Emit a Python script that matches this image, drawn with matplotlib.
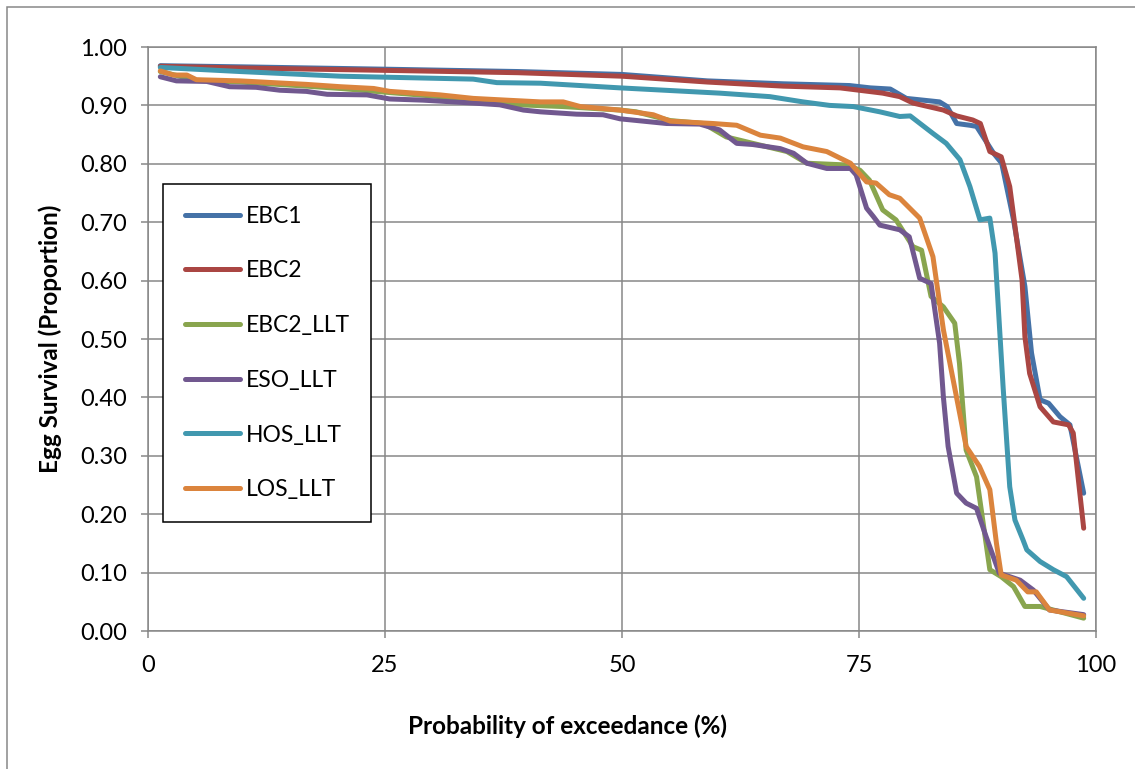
import matplotlib
matplotlib.use('Agg')
import matplotlib.pyplot as plt
from matplotlib.patches import Rectangle

plt.rcParams['font.family'] = ['Lato', 'DejaVu Sans']

# data
ebc1_x = [1.3, 10, 25, 39, 50, 59, 67, 74, 76.2, 78.3, 80.0, 83.5, 84.3, 85.3, 86.7, 87.4,
          89.2, 90.05, 91.3, 92.5, 93.2, 94.1, 95.0, 96.2, 97.25, 98.7]
ebc1_y = [0.968, 0.966, 0.962, 0.958, 0.953, 0.942, 0.937, 0.934, 0.930, 0.928, 0.912, 0.906,
          0.898, 0.869, 0.866, 0.864, 0.818, 0.801, 0.704, 0.590, 0.476, 0.396, 0.390, 0.367,
          0.353, 0.236]

ebc2_x = [1.3, 10, 25, 39, 50, 59, 67, 73, 77.5, 79.3, 80.7, 83.9, 85.3, 87.0, 87.8, 88.8,
          90.0, 90.9, 91.6, 92.2, 92.5, 93.0, 94.1, 95.5, 97.1, 97.6, 98.7]
ebc2_y = [0.967, 0.964, 0.960, 0.956, 0.950, 0.940, 0.933, 0.930, 0.921, 0.915, 0.904, 0.892,
          0.882, 0.875, 0.869, 0.821, 0.812, 0.761, 0.675, 0.601, 0.504, 0.441, 0.384, 0.358,
          0.353, 0.339, 0.176]

ebc2_llt_x = [1.3, 5.1, 9.7, 16.7, 20.3, 25.5, 30.8, 34.3, 39.2, 43.8, 49.8, 51.5, 55.1, 58.6,
              61.0, 63.8, 67.4, 69.5, 73.7, 75.1, 76.1, 77.5, 78.9, 80.7, 81.6, 82.6, 83.9,
              85.1, 85.6, 86.3, 87.4, 88.8, 90.0, 91.3, 92.5, 94.1, 98.7]
ebc2_llt_y = [0.958, 0.943, 0.940, 0.933, 0.929, 0.922, 0.915, 0.909, 0.901, 0.898, 0.892,
              0.889, 0.874, 0.869, 0.846, 0.835, 0.821, 0.801, 0.798, 0.789, 0.772, 0.721,
              0.704, 0.658, 0.652, 0.573, 0.555, 0.527, 0.458, 0.310, 0.264, 0.105, 0.093,
              0.076, 0.042, 0.042, 0.022]

eso_llt_x = [1.3, 3.0, 6.2, 8.6, 11.4, 13.9, 16.7, 18.9, 23.1, 25.5, 29.0, 34.3, 37.1, 39.6,
             41.4, 45.2, 48.0, 49.8, 54.7, 58.2, 60.3, 62.1, 63.8, 66.7, 68.1, 69.5, 71.6,
             74.1, 74.7, 75.8, 76.5, 77.2, 79.3, 80.3, 81.4, 82.6, 83.5, 83.9, 84.4, 85.3,
             86.3, 87.4, 88.4, 89.8, 92.0, 93.4, 95.1, 98.7]
eso_llt_y = [0.949, 0.942, 0.941, 0.932, 0.931, 0.926, 0.924, 0.919, 0.918, 0.911, 0.909,
             0.904, 0.901, 0.892, 0.889, 0.885, 0.884, 0.877, 0.869, 0.868, 0.858, 0.835,
             0.833, 0.826, 0.818, 0.801, 0.792, 0.792, 0.781, 0.724, 0.710, 0.695, 0.687,
             0.675, 0.604, 0.595, 0.493, 0.401, 0.316, 0.236, 0.219, 0.210, 0.162, 0.099,
             0.087, 0.070, 0.036, 0.028]

hos_llt_x = [1.3, 9.7, 20.3, 34.3, 36.8, 41.4, 49.8, 60.3, 65.6, 69.1, 71.9, 74.4, 77.2, 79.3,
             80.4, 82.8, 84.2, 85.65, 86.7, 87.76, 88.8, 89.35, 90.2, 90.9, 91.45, 92.3, 92.7,
             94.1, 95.5, 96.9, 98.7]
hos_llt_y = [0.965, 0.958, 0.950, 0.945, 0.939, 0.938, 0.930, 0.921, 0.915, 0.906, 0.900,
             0.898, 0.889, 0.881, 0.882, 0.852, 0.835, 0.807, 0.761, 0.704, 0.707, 0.647,
             0.418, 0.247, 0.190, 0.156, 0.139, 0.119, 0.105, 0.093, 0.056]

los_llt_x = [1.3, 2.7, 4.1, 5.1, 9.7, 16.7, 20.3, 23.8, 25.5, 30.8, 34.3, 37.8, 41.4, 43.8,
             45.6, 49.8, 53.3, 55.1, 59.6, 62.1, 64.6, 66.7, 69.1, 71.6, 74.1, 75.8, 76.8,
             78.2, 79.3, 81.4, 82.8, 83.9, 86.3, 87.7, 88.8, 89.5, 90.0, 91.6, 92.8, 93.7,
             95.1, 98.7]
los_llt_y = [0.959, 0.952, 0.952, 0.944, 0.942, 0.936, 0.932, 0.929, 0.924, 0.918, 0.912,
             0.909, 0.906, 0.906, 0.898, 0.892, 0.884, 0.873, 0.869, 0.866, 0.849, 0.844,
             0.829, 0.821, 0.801, 0.769, 0.767, 0.747, 0.741, 0.707, 0.641, 0.516, 0.316,
             0.282, 0.242, 0.150, 0.096, 0.087, 0.067, 0.067, 0.036, 0.026]

series = [('EBC1', ebc1_x, ebc1_y, '#4572A7'),
          ('EBC2', ebc2_x, ebc2_y, '#AA4643'),
          ('EBC2_LLT', ebc2_llt_x, ebc2_llt_y, '#89A54E'),
          ('ESO_LLT', eso_llt_x, eso_llt_y, '#71588F'),
          ('HOS_LLT', hos_llt_x, hos_llt_y, '#4198AF'),
          ('LOS_LLT', los_llt_x, los_llt_y, '#DB843D')]

xticks = [0, 25, 50, 75, 100]
yticks = [0.0, 0.1, 0.2, 0.3, 0.4, 0.5, 0.6, 0.7, 0.8, 0.9, 1.0]

W, H = 1135, 769
fig = plt.figure(figsize=(W/100, H/100), dpi=100)
ax = fig.add_axes([148/W, 1-631/H, (1096-148)/W, (631-47)/H])

grey = '#878787'
for name, x, y, c in series:
    ax.plot(x, y, color=c, lw=3.6, label=name, solid_capstyle='round', solid_joinstyle='round')

ax.set_xlim(0, 100)
ax.set_ylim(0, 1)
ax.set_xticks(xticks)
ax.set_yticks(yticks)
ax.set_yticklabels(['%.2f' % v for v in yticks])
ax.grid(True, color=grey, lw=1.1)
ax.set_axisbelow(True)
for s in ax.spines.values():
    s.set_color(grey)
    s.set_linewidth(1.1)
ax.tick_params(axis='both', direction='out', length=5, width=1.1, color=grey,
               labelsize=17, labelcolor='black')
ax.tick_params(axis='y', pad=10)
ax.tick_params(axis='x', pad=12)

ax.set_xlabel('Probability of exceedance (%)', fontsize=17.5, fontweight='bold')
ax.xaxis.set_label_coords((567-148)/948, (631-714)/584)
ax.set_ylabel('Egg Survival (Proportion)', fontsize=17.5, fontweight='bold')
ax.yaxis.set_label_coords((50-148)/948, 0.5)
ax.yaxis.label.set_va('center')

leg = ax.legend(loc='upper left', bbox_to_anchor=((163-148)/948, (631-184)/584),
                borderaxespad=0, fontsize=16.5, frameon=True, fancybox=False,
                edgecolor='black', borderpad=0.95, handlelength=2.4, handletextpad=0.25,
                labelspacing=1.47)
leg.get_frame().set_linewidth(1.1)
leg.get_frame().set_alpha(1)

fig.patches.append(Rectangle((7/W, -0.01), 1.0, 1-7/H+0.01, transform=fig.transFigure,
                             fill=False, edgecolor=grey, lw=1.1))

fig.savefig('out.png', dpi=100)
